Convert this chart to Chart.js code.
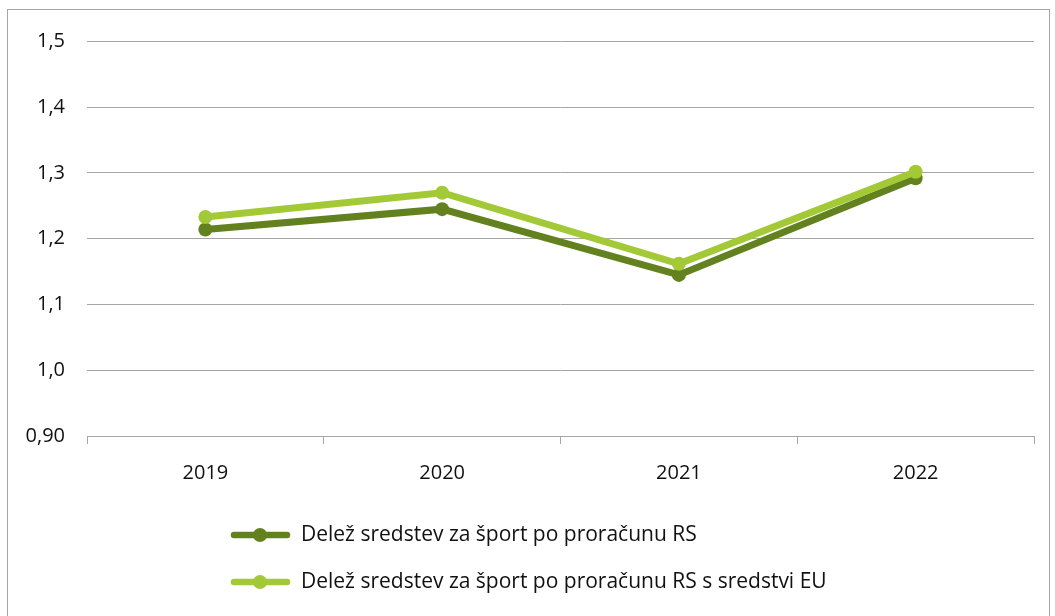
<!DOCTYPE html>
<html>
<head>
<meta charset="utf-8">
<script src="https://cdn.jsdelivr.net/npm/chart.js@4/dist/chart.umd.min.js"></script>
<style>
  html, body { margin: 0; padding: 0; background: #fff; }
  #box {
    position: absolute;
    left: 7px;
    top: 9px;
    width: 1041px;
    height: 610px;
    border: 1px solid #a6a6a6;
  }
</style>
</head>
<body>
<div id="box"><canvas id="chart" width="1041" height="610"></canvas></div>
<script>
var years = ['2019', '2020', '2021', '2022'];
var seriesRS = [1.214, 1.245, 1.145, 1.292];
var seriesRSEU = [1.233, 1.270, 1.162, 1.302];
var seriesNames = [
  'Delež sredstev za šport po proračunu RS',
  'Delež sredstev za šport po proračunu RS s sredstvi EU'
];
var yTickLabels = ['0,90', '1,0', '1,1', '1,2', '1,3', '1,4', '1,5'];

var FONT = '"Open Sans", sans-serif';

// legend drawn by hand, one item per row
var stackedLegend = {
  id: 'stackedLegend',
  afterDraw: function(chart) {
    var ctx = chart.ctx;
    var datasets = chart.data.datasets;
    ctx.save();
    for (var i = 0; i < datasets.length; i++) {
      var y = 525 + i * 47;
      ctx.strokeStyle = datasets[i].borderColor;
      ctx.lineWidth = 6.5;
      ctx.lineCap = 'round';
      ctx.beginPath();
      ctx.moveTo(226, y);
      ctx.lineTo(279, y);
      ctx.stroke();
      ctx.fillStyle = datasets[i].borderColor;
      ctx.beginPath();
      ctx.arc(252, y, 7, 0, Math.PI * 2);
      ctx.fill();
      ctx.fillStyle = '#111';
      ctx.font = '21px ' + FONT;
      ctx.textBaseline = 'middle';
      ctx.textAlign = 'left';
      ctx.fillText(datasets[i].label, 293, y);
    }
    ctx.restore();
  }
};

document.addEventListener('DOMContentLoaded', function() {
  new Chart(document.getElementById('chart'), {
    type: 'line',
    data: {
      labels: years,
      datasets: [{
        label: seriesNames[0],
        data: seriesRS,
        borderColor: '#63821f',
        backgroundColor: '#63821f',
        borderWidth: 7,
        pointRadius: 7,
        pointHoverRadius: 7,
        pointBorderWidth: 0,
        fill: false,
        order: 2
      }, {
        label: seriesNames[1],
        data: seriesRSEU,
        borderColor: '#a3c937',
        backgroundColor: '#a3c937',
        borderWidth: 7,
        pointRadius: 7,
        pointHoverRadius: 7,
        pointBorderWidth: 0,
        fill: false,
        order: 1
      }]
    },
    options: {
      responsive: false,
      animation: false,
      layout: {
        padding: { top: 31.5, right: 15, bottom: 134, left: 0 }
      },
      plugins: {
        legend: { display: false },
        tooltip: { enabled: false }
      },
      scales: {
        x: {
          offset: true,
          grid: {
            offset: true,
            drawOnChartArea: false,
            drawTicks: true,
            tickLength: 8,
            color: '#a6a6a6'
          },
          border: { display: true, color: '#a6a6a6', width: 1 },
          ticks: {
            color: '#111',
            padding: 17,
            font: { family: FONT, size: 20 }
          },
          afterFit: function(scale) {
            scale.height = 50;
          }
        },
        y: {
          min: 0.9,
          max: 1.5,
          grid: {
            color: '#a6a6a6',
            drawTicks: false
          },
          border: { display: false },
          ticks: {
            stepSize: 0.1,
            color: '#111',
            padding: 22,
            font: { family: FONT, size: 20 },
            callback: function(value, index) {
              return yTickLabels[index];
            }
          },
          afterFit: function(scale) {
            scale.width = 79;
            scale.paddingTop = 0;
            scale.paddingBottom = 0;
          }
        }
      }
    },
    plugins: [stackedLegend]
  });
});
</script>
</body>
</html>
